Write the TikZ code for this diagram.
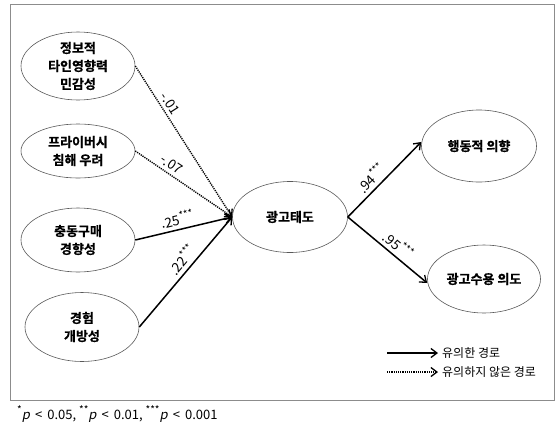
\documentclass[tikz,border=0pt]{standalone}
\usepackage{fontspec}
\setmainfont{Noto Sans CJK KR}[BoldFont={Noto Sans CJK KR Bold},BoldFeatures={FakeBold=0.8}]
\newfontfamily\slfont{Noto Sans CJK KR}[FakeSlant=0.2]
\newcommand{\sigstars}[1]{\raisebox{0.4em}{\fontsize{10}{10}\selectfont #1}}
\usetikzlibrary{shapes.geometric,arrows.meta}
\begin{document}
\begin{tikzpicture}[x=1pt,y=-1pt,
  var/.style={ellipse,draw=black!65,line width=0.6pt,minimum width=114pt,minimum height=68pt,inner sep=0pt,align=center,font=\bfseries\fontsize{13}{18}\selectfont},
  sig/.style={line width=1.5pt,-{Straight Barb[length=6pt,width=9pt,line width=1.3pt]}},
  nsig/.style={line width=1.4pt,dash pattern=on 1.2pt off 1pt,-{Straight Barb[length=6pt,width=9pt,line width=1.3pt]}},
  lab/.style={font=\fontsize{13.5}{14}\selectfont,sloped,above,inner sep=3.5pt},
  leg/.style={font=\fontsize{12}{13}\selectfont,anchor=west,inner sep=0pt}]
\useasboundingbox (0,0) rectangle (556,429);
\draw[black!45,line width=1pt] (10,4) rectangle (554,400);
\node[var] (info) at (78,66) {정보적\\타인영향력\\민감성};
\node[var,minimum height=54pt] (priv) at (78,151) {프라이버시\\침해 우려};
\node[var,minimum height=64pt] (imp) at (78,240) {충동구매\\경향성};
\node[var,minimum height=69pt] (exp) at (82,327) {경험\\개방성};
\node[var,minimum width=115pt,minimum height=71pt] (att) at (290,217) {광고태도};
\node[var,minimum width=115pt,minimum height=72pt] (beh) at (479,146) {행동적 의향};
\node[var,minimum width=113pt,minimum height=68pt] (acc) at (484,279) {광고수용 의도};
\draw[nsig] (info.east) -- node[lab,pos=0.28] {-.01} (att.west);
\draw[nsig] (priv.east) -- node[lab,pos=0.32] {-.07} (att.west);
\draw[sig] (imp.east) -- node[lab,pos=0.46] {.25\sigstars{***}} (att.west);
\draw[sig] (exp.east) -- node[lab,pos=0.55] {.22\sigstars{***}} (att.west);
\draw[sig] (att.east) -- node[lab,pos=0.42] {.94\sigstars{***}} ([yshift=4pt]beh.west);
\draw[sig] (att.east) -- node[lab,pos=0.55] {.95\sigstars{***}} ([yshift=-4pt]acc.west);
\coordinate (l1a) at (387,353); \coordinate (l1b) at (438,353);
\coordinate (l2a) at (387,372); \coordinate (l2b) at (438,372);
\draw[sig] (l1a) -- (l1b);
\draw[nsig] (l2a) -- (l2b);
\node[leg] (t1) at (442,353) {유의한 경로};
\node[leg] (t2) at (442,372) {유의하지 않은 경로};
\node[leg,font=\fontsize{13}{14}\selectfont] (fn) at (17,414) {\sigstars{*}{\slfont p} \,<\, 0.05, \sigstars{**}{\slfont p} \,<\, 0.01, \sigstars{***}{\slfont p} \,<\, 0.001};
\end{tikzpicture}
\end{document}
